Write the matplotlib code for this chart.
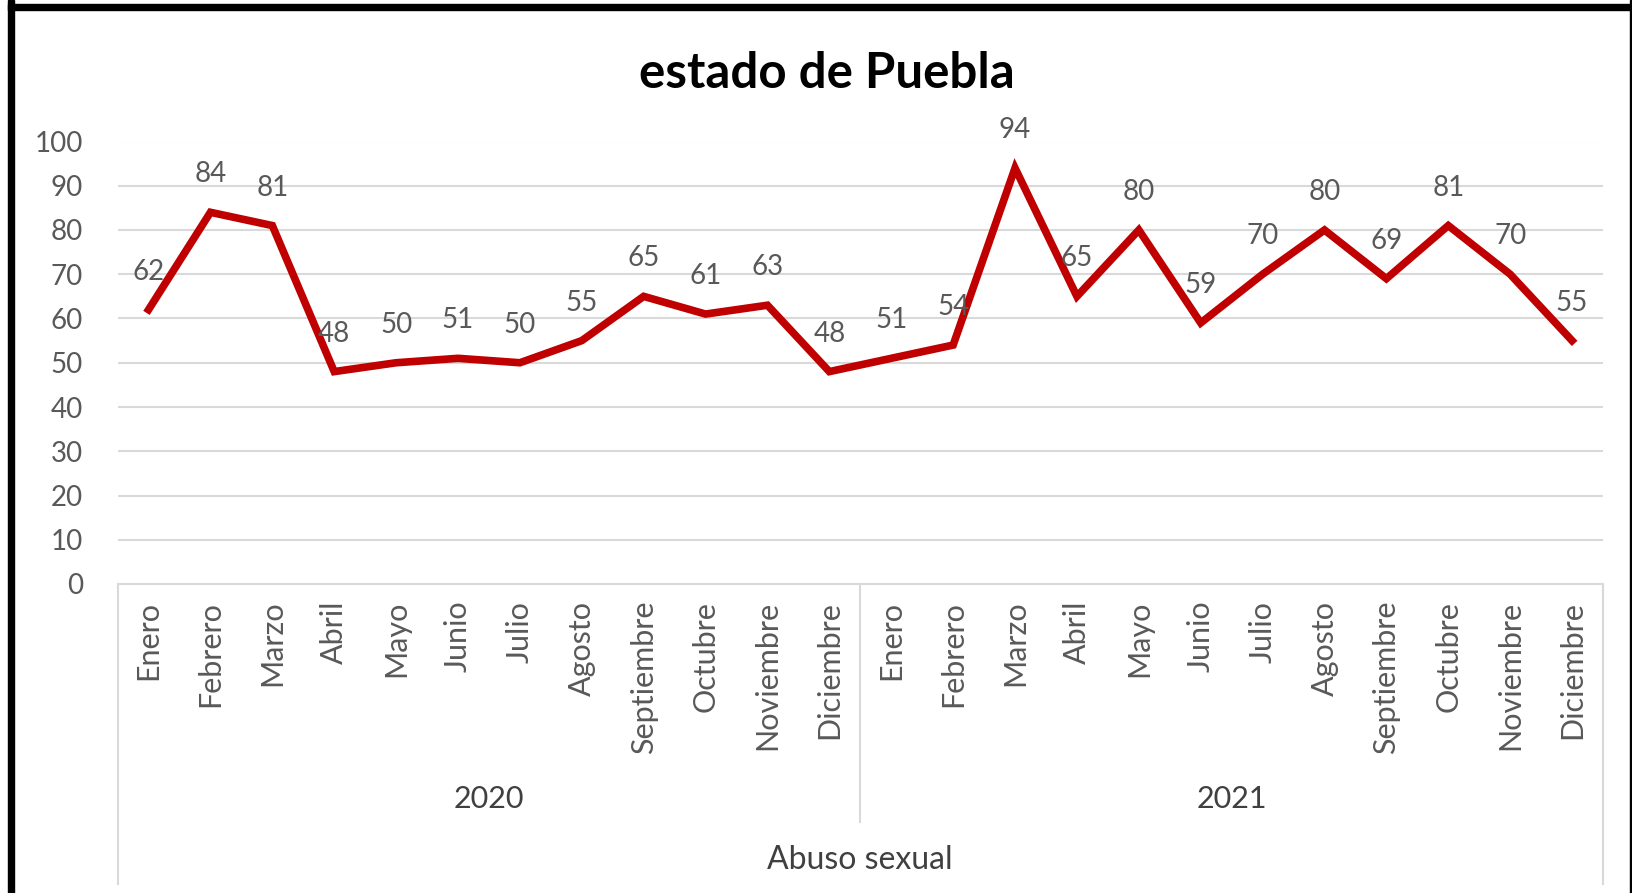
import matplotlib
matplotlib.use("Agg")
import matplotlib.pyplot as plt
from matplotlib.lines import Line2D
from matplotlib.patches import Rectangle

months = ["Enero", "Febrero", "Marzo", "Abril", "Mayo", "Junio", "Julio",
          "Agosto", "Septiembre", "Octubre", "Noviembre", "Diciembre"]
years = ["2020", "2021"]
values_2020 = [62, 84, 81, 48, 50, 51, 50, 55, 65, 61, 63, 48]
values_2021 = [51, 54, 94, 65, 80, 59, 70, 80, 69, 81, 70, 55]
series_name = "Abuso sexual"
title = "estado de Puebla"
yticks = [0, 10, 20, 30, 40, 50, 60, 70, 80, 90, 100]

values = values_2020 + values_2021
labels = months + months
x = list(range(len(values)))

W, H = 1632, 893
fig = plt.figure(figsize=(W / 100, H / 100), dpi=100)
plt.rcParams['font.family'] = ['Lato', 'DejaVu Sans']

def fx(px):
    return px / W

def fy(py):
    return 1 - py / H

# plot area
left_px, right_px, top_px, bottom_px = 117.6, 1603, 141.5, 584
ax = fig.add_axes([fx(left_px), fy(bottom_px), fx(right_px - left_px), (bottom_px - top_px) / H])
ax.set_xlim(-0.5, len(values) - 0.5)
ax.set_ylim(0, 100)

text_col = "#595959"
grid_col = "#D9D9D9"
fs = 20
fs_cat = 22

for t in yticks[1:]:
    ax.axhline(t, color=grid_col, lw=1.5, zorder=1)
for s in ["top", "right", "left"]:
    ax.spines[s].set_visible(False)
ax.spines["bottom"].set_color(grid_col)
ax.spines["bottom"].set_linewidth(1.5)

ax.set_yticks(yticks)
ax.set_yticklabels([str(t) for t in yticks], fontsize=fs, color=text_col)
ax.tick_params(axis="y", length=0, pad=25)
ax.set_xticks(x)
ax.set_xticklabels(labels, rotation=90, fontsize=fs_cat, color=text_col, va="top", ha="center")
ax.tick_params(axis="x", length=0, pad=12)

ax.plot(x, values, color="#C00000", lw=5.5, zorder=3, solid_joinstyle="miter")

for xi, v in zip(x, values):
    ax.annotate(str(v), (xi, v), xytext=(0, 18), textcoords="offset points",
                ha="center", va="bottom", fontsize=fs, color=text_col, zorder=4)

# multi-level category lines
sep_x = (left_px + right_px) / 2
for xp, yb in [(left_px, 884), (sep_x, 822), (right_px, 884)]:
    fig.add_artist(Line2D([fx(xp), fx(xp)], [fy(bottom_px), fy(yb)], color=grid_col, lw=1.5))

fig.text(fx((left_px + sep_x) / 2), fy(799), years[0], ha="center", va="center", fontsize=22, color="#404040")
fig.text(fx((sep_x + right_px) / 2), fy(799), years[1], ha="center", va="center", fontsize=22, color="#404040")
fig.text(fx((left_px + right_px) / 2), fy(860), series_name, ha="center", va="center", fontsize=23, color="#404040")

fig.text(fx(827), fy(73), title, ha="center", va="center", fontsize=35.5, fontweight="bold", color="black")

# black frame
fig.add_artist(Rectangle((fx(8), fy(893)), fx(6), 1, transform=fig.transFigure, color="black"))
fig.add_artist(Rectangle((fx(8), fy(10)), fx(1632 - 8), 6 / H, transform=fig.transFigure, color="black"))
fig.add_artist(Rectangle((fx(1630), fy(893)), fx(2), 1, transform=fig.transFigure, color="black"))

fig.savefig("out.png", dpi=100)
